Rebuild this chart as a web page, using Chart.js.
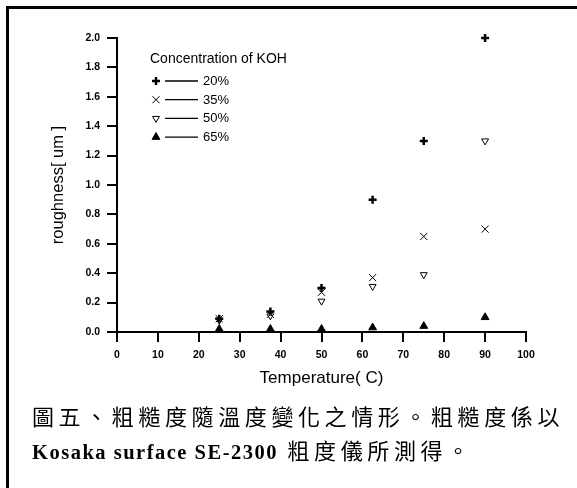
<!DOCTYPE html>
<html>
<head>
<meta charset="utf-8">
<script src="https://cdn.jsdelivr.net/npm/chart.js@4/dist/chart.umd.min.js"></script>
<style>
  html, body { margin: 0; padding: 0; background: #fff; }
  #wrap { position: relative; width: 577px; height: 488px; overflow: hidden; }
  #marco { position: absolute; left: 6px; top: 6px; width: 620px; height: 520px;
           border-left: 3px solid #000; border-top: 3px solid #000; }
  #grafico { position: absolute; left: 0; top: 0; }
  #leyenda { position: absolute; left: 32px; top: 398px; font-family: "Noto Sans CJK TC";
             font-size: 22px; line-height: 34px; letter-spacing: 4.6px; color: #000; white-space: nowrap; }
  .latin { font-family: "Liberation Serif"; font-weight: bold; font-size: 20.5px; letter-spacing: 1.5px; }
</style>
</head>
<body>
<div id="wrap">
  <div id="marco"></div>
  <canvas id="grafico" width="577" height="488"></canvas>
  <div id="leyenda">圖五、粗糙度隨溫度變化之情形。粗糙度係以<br><span class="latin">Kosaka surface SE-2300</span> 粗度儀所測得。</div>
</div>
<script>
// Temperaturas medidas (C)
const temperaturas = [25, 37.5, 50, 62.5, 75, 90];

// Rugosidad (um) para cada concentración de KOH
const koh20 = [0.09, 0.14, 0.30, 0.90, 1.30, 2.00];
const koh35 = [0.09, 0.12, 0.27, 0.37, 0.65, 0.70];
const koh50 = [0.08, 0.11, 0.21, 0.31, 0.39, 1.30];
const koh65 = [0.02, 0.02, 0.02, 0.03, 0.04, 0.10];

const concentraciones = ["20%", "35%", "50%", "65%"];
const tituloLeyenda = "Concentration of KOH";

// Ejes
const ejeX = { min: 0, max: 100, paso: 10, titulo: "Temperature( C)" };
const ejeY = { min: 0, max: 2.0, paso: 0.2, titulo: "roughness[ um ]" };

function puntos(valores) {
    return temperaturas.map((t, i) => ({ x: t, y: valores[i] }));
}

// Leyenda dibujada a mano: símbolo, línea y texto
const leyendaKOH = {
    id: "leyendaKOH",
    afterDraw(chart) {
        const ctx = chart.ctx;
        ctx.save();
        ctx.fillStyle = "#000";
        ctx.strokeStyle = "#000";
        ctx.textBaseline = "middle";
        ctx.font = '14px "Liberation Sans"';
        ctx.fillText(tituloLeyenda, 150, 59);
        ctx.font = '13px "Liberation Sans"';
        chart.data.datasets.forEach((ds, i) => {
            const y = 81 + i * 18.7;
            ctx.fillStyle = ds.backgroundColor;
            ctx.strokeStyle = ds.borderColor;
            ctx.lineWidth = ds.borderWidth;
            Chart.helpers.drawPoint(ctx, {
                pointStyle: ds.pointStyle,
                rotation: ds.rotation || 0,
                radius: ds.pointRadius,
                borderWidth: ds.borderWidth
            }, 156, y);
            ctx.lineWidth = 1.3;
            ctx.strokeStyle = "#000";
            ctx.beginPath();
            ctx.moveTo(165, y);
            ctx.lineTo(198, y);
            ctx.stroke();
            ctx.fillStyle = "#000";
            ctx.fillText(ds.label, 203, y + 0.5);
        });
        ctx.restore();
    }
};

const fuenteTicks = { family: "Liberation Sans", size: 10.5, weight: "bold" };
const fuenteTitulo = { family: "Liberation Sans", size: 17 };

new Chart(document.getElementById("grafico").getContext("2d"), {
    type: "scatter",
    data: {
        datasets: [
            {
                label: concentraciones[0], data: puntos(koh20), clip: false,
                pointStyle: "cross", pointRadius: 4, borderWidth: 2.5,
                borderColor: "#000", backgroundColor: "#000"
            },
            {
                label: concentraciones[1], data: puntos(koh35), clip: false,
                pointStyle: "crossRot", pointRadius: 5, borderWidth: 1,
                borderColor: "#000", backgroundColor: "#000"
            },
            {
                label: concentraciones[2], data: puntos(koh50), clip: false,
                pointStyle: "triangle", rotation: 180, pointRadius: 4, borderWidth: 1,
                borderColor: "#000", backgroundColor: "rgba(0,0,0,0)"
            },
            {
                label: concentraciones[3], data: puntos(koh65), clip: false,
                pointStyle: "triangle", pointRadius: 4.5, borderWidth: 1,
                borderColor: "#000", backgroundColor: "#000"
            }
        ]
    },
    options: {
        responsive: false,
        animation: false,
        layout: { padding: { left: 49, top: 38, right: 51, bottom: 99 } },
        plugins: { legend: { display: false }, tooltip: { enabled: false } },
        scales: {
            x: {
                type: "linear",
                min: ejeX.min, max: ejeX.max,
                afterFit: (s) => { s.height = 57; },
                ticks: { stepSize: ejeX.paso, font: fuenteTicks, color: "#000", padding: 7, maxRotation: 0 },
                grid: { drawOnChartArea: false, drawTicks: true, tickLength: 10, color: "#000", lineWidth: 2 },
                border: { color: "#000", width: 2 },
                title: { display: true, text: ejeX.titulo, font: fuenteTitulo, color: "#000", padding: 0 }
            },
            y: {
                min: ejeY.min, max: ejeY.max,
                afterFit: (s) => { s.width = 68; },
                ticks: { stepSize: ejeY.paso, font: fuenteTicks, color: "#000", padding: 7,
                         callback: (v) => Number(v).toFixed(1) },
                grid: { drawOnChartArea: false, drawTicks: true, tickLength: 10, color: "#000", lineWidth: 2 },
                border: { color: "#000", width: 2 },
                title: { display: true, text: ejeY.titulo, font: { family: "Liberation Sans", size: 16.5 }, color: "#000", padding: 0 }
            }
        }
    },
    plugins: [leyendaKOH]
});
</script>
</body>
</html>
